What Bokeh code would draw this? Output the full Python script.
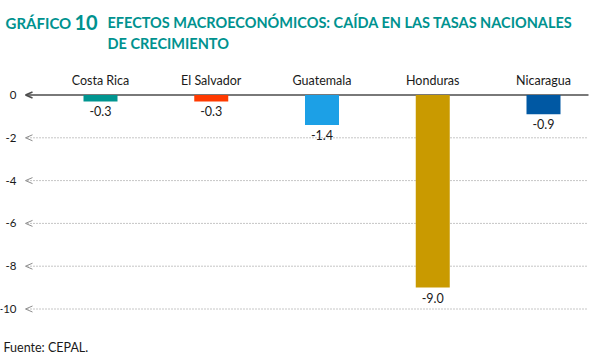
from bokeh.plotting import figure
from bokeh.models import Range1d, FixedTicker, ColumnDataSource
from bokeh.embed import file_html
from bokeh.resources import INLINE
from bokeh.core.properties import value

countries = ["Costa Rica", "El Salvador", "Guatemala", "Honduras", "Nicaragua"]
growth_drop = [-0.3, -0.3, -1.4, -9.0, -0.9]
bar_colors = ["#009590", "#FF3A00", "#1CA0E6", "#C99A00", "#0058A3"]
y_ticks = [0, -2, -4, -6, -8, -10]
y_tick_labels = ["0", "-2", "-4", "-6", "-8", "-10"]
title_prefix = "GRÁFICO"
title_number = "10"
title_lines = ["EFECTOS MACROECONÓMICOS: CAÍDA EN LAS TASAS NACIONALES", "DE CRECIMIENTO"]
source_note = "Fuente: CEPAL."

TEAL = "#00928F"
FONT = "Lato"
TXT = "#1a1a1a"

W, H = 600, 362
GL, GR = 25, 588                 # left / right ends of the gridlines (page px)
PX_X0, PX_DX = 100, 110.75       # first category centre, spacing (page px)
PX_Y0, PX_DY = 94.5, 21.4        # zero line, px per unit


def dx(px):
    return (px - PX_X0) / PX_DX


def dy(py):
    return (PX_Y0 - py) / PX_DY


p = figure(width=W, height=H, output_backend="svg", toolbar_location=None, title=None,
           x_range=Range1d(dx(0), dx(W)), y_range=Range1d(dy(H), dy(0)),
           x_axis_location="above",
           min_border=0, min_border_left=0, min_border_right=0,
           min_border_top=0, min_border_bottom=0)
p.outline_line_color = None
p.background_fill_color = "white"
p.border_fill_color = "white"
p.grid.visible = False

xpos = list(range(len(countries)))
src = ColumnDataSource(dict(x=xpos, v=growth_drop, c=bar_colors,
                            lab=["%.1f" % v for v in growth_drop]))

# category axis, drawn just above the zero line
xa = p.xaxis[0]
xa.fixed_location = 0
xa.ticker = FixedTicker(ticks=xpos)
xa.major_label_overrides = {i: n for i, n in zip(xpos, countries)}
xa.axis_line_color = None
xa.major_tick_line_color = None
xa.minor_tick_line_color = None
xa.major_label_standoff = 1
xa.major_label_text_font = FONT
xa.major_label_text_font_size = "12.5px"
xa.major_label_text_color = TXT

# value axis at the left end of the gridlines
ya = p.yaxis[0]
ya.fixed_location = dx(GL)
ya.ticker = FixedTicker(ticks=y_ticks)
ya.major_label_overrides = {tk: s for tk, s in zip(y_ticks, y_tick_labels)}
ya.axis_line_color = None
ya.major_tick_line_color = None
ya.minor_tick_line_color = None
ya.major_label_standoff = 3
ya.major_label_text_font = FONT
ya.major_label_text_font_size = "11.5px"
ya.major_label_text_color = TXT

# gridlines (dotted) and zero line (solid)
grid_y = y_ticks[1:]
p.segment(x0=[dx(GL + 2)] * len(grid_y), y0=grid_y, x1=[dx(GR)] * len(grid_y), y1=grid_y,
          line_color="#8c8c8c", line_width=1, line_dash="1 2")
p.segment(x0=[dx(GL + 1)], y0=[0], x1=[dx(GR)], y1=[0], line_color="#4d4d4d", line_width=1.5)

# arrow heads at the left end of each gridline
x_left = dx(GL)
ax_len = 7 / PX_DX
ay_len = 3 / PX_DY
arr = dict(x0=[], y0=[], x1=[], y1=[], c=[], w=[])
for tk in y_ticks:
    for s in (1, -1):
        arr["x0"].append(x_left)
        arr["y0"].append(tk)
        arr["x1"].append(x_left + ax_len)
        arr["y1"].append(tk + s * ay_len)
        arr["c"].append("#4d4d4d" if tk == 0 else "#8c8c8c")
        arr["w"].append(1.5 if tk == 0 else 1)
p.segment(x0="x0", y0="y0", x1="x1", y1="y1", line_color="c", line_width="w",
          source=ColumnDataSource(arr))

# bars and value labels
p.vbar(x="x", top=0, bottom="v", width=34 / PX_DX, fill_color="c", line_color=None, source=src)
p.text(x="x", y="v", text="lab", source=src, text_align="center", text_baseline="top",
       y_offset=5, text_font=value(FONT), text_font_size="12.5px", text_color=TXT)

# title
p.text(x=[dx(5)], y=[dy(22)], text=[title_prefix], text_font=value(FONT), text_font_style="bold",
       text_font_size="15px", text_color=TEAL, text_baseline="alphabetic")
p.text(x=[dx(74)], y=[dy(22)], text=[title_number], text_font=value(FONT), text_font_style="bold",
       text_font_size="20px", text_color=TEAL, text_baseline="alphabetic")
p.text(x=[dx(107), dx(107)], y=[dy(22), dy(43)], text=title_lines, text_font=value(FONT),
       text_font_style="bold", text_font_size="14.5px", text_color=TEAL, text_baseline="alphabetic")

# source note
p.text(x=[dx(3)], y=[dy(347)], text=[source_note], text_font=value(FONT),
       text_font_size="12.5px", text_color=TXT, text_baseline="alphabetic")

open("out.html", "w").write(file_html(p, INLINE))
